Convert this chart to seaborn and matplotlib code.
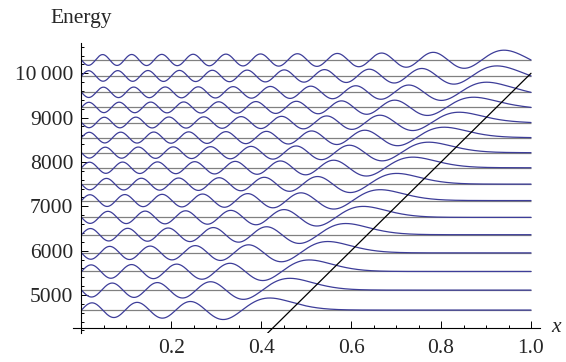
import numpy as np
import pandas as pd
import matplotlib
matplotlib.use("Agg")
import matplotlib.pyplot as plt
from matplotlib.ticker import MultipleLocator
import seaborn as sns

# energy levels (gray horizontal lines)
levels = [4660, 5110, 5530, 5950, 6360, 6750, 7130, 7500,
          7870, 8210, 8550, 8890, 9230, 9570, 9940, 10300]
slope = 10000          # potential V(x) = slope * x (black line)
amp = 110              # vertical scale of the wavefunctions
axis_origin = 4266     # where the x axis crosses
y_range = (4143, 10683)
x_range = (-0.02, 1.02)
y_ticks = [5000, 6000, 7000, 8000, 9000, 10000]
y_labels = ["5000", "6000", "7000", "8000", "9000", "10\u2009000"]
x_ticks = [0.2, 0.4, 0.6, 0.8, 1.0]
x_labels = ["0.2", "0.4", "0.6", "0.8", "1.0"]

# stationary states of -psi'' + V psi = E psi in the box [0, 1]
n = 1500
x = np.linspace(0, 1, n + 2)
h = x[1] - x[0]
off = np.ones(n - 1) / h**2
H = np.diag(2 / h**2 + slope * x[1:-1]) - np.diag(off, 1) - np.diag(off, -1)
evals, evecs = np.linalg.eigh(H)

rows = []
for i, e in enumerate(levels):
    k = np.argmin(np.abs(evals - e))
    psi = np.concatenate([[0], evecs[:, k], [0]]) / np.sqrt(h)
    psi *= np.sign(psi[np.argmax(np.abs(psi))])
    rows.append(pd.DataFrame({"x": x, "y": e + amp * psi, "level": i}))
df = pd.concat(rows, ignore_index=True)

sns.set_style("white")
plt.rcParams["font.family"] = ["Liberation Serif", "DejaVu Serif"]
plt.rcParams["font.size"] = 15.5

fig = plt.figure(figsize=(5.66, 3.62), dpi=100)
ax = fig.add_axes([72.5 / 566, 29 / 362, 467.5 / 566, 290 / 362])

ax.hlines(levels, 0, 1, color="0.5", lw=0.9, zorder=1)
sns.lineplot(data=df, x="x", y="y", units="level", estimator=None, sort=False,
             color="#3d3d99", lw=0.9, ax=ax, zorder=2)
xp = np.array([0.0, 1.0])
sns.lineplot(x=xp, y=slope * xp, color="black", lw=0.9, ax=ax, zorder=3)

ax.set_xlim(*x_range)
ax.set_ylim(*y_range)
ax.set_xlabel("")
ax.set_ylabel("")

for s in ["top", "right"]:
    ax.spines[s].set_visible(False)
ax.spines["left"].set_position(("data", 0))
ax.spines["bottom"].set_position(("data", axis_origin))
for s in ["left", "bottom"]:
    ax.spines[s].set_color("black")
    ax.spines[s].set_linewidth(0.8)

ax.set_xticks(x_ticks, x_labels)
ax.set_yticks(y_ticks, y_labels)
ax.xaxis.set_minor_locator(MultipleLocator(0.05))
ax.yaxis.set_minor_locator(MultipleLocator(200))
ax.tick_params(which="both", direction="in", width=0.7, color="black",
               bottom=True, left=True, top=False, right=False)
ax.tick_params(which="major", length=5)
ax.tick_params(which="minor", length=2.5)
ax.tick_params(axis="x", pad=8)
ax.tick_params(axis="y", pad=6)

fig.text(81 / 566, 1 - 18 / 362, "Energy", ha="center", va="center")
fig.text(556 / 566, 1 - 328 / 362, "x", ha="center", va="center", style="italic")

fig.savefig("out.png", dpi=100)
